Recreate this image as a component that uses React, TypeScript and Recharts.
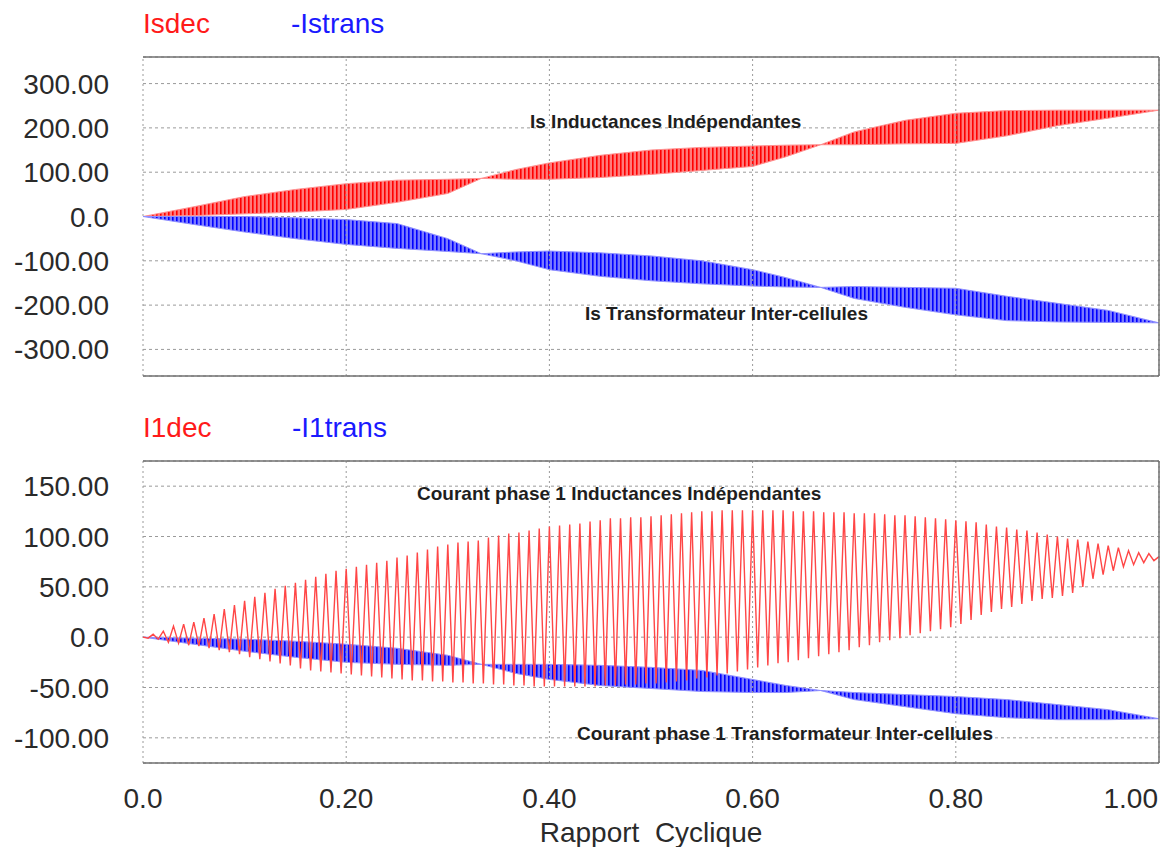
import { ComposedChart, Area, Line, XAxis, YAxis, CartesianGrid, ReferenceLine } from 'recharts';

const FONT = '"Liberation Sans", Arial, sans-serif';

// duty cycle sample positions for the band envelopes
const duty = [0, 0.05, 0.1, 0.15, 0.2, 0.25, 0.3, 0.333, 0.367, 0.4, 0.45, 0.5, 0.55, 0.6, 0.633, 0.667, 0.7, 0.75, 0.8, 0.85, 0.9, 0.95, 1.0];

// top chart: Isdec (red) and -Istrans (blue) ripple envelopes
const isdecHigh = [0, 22, 45, 61, 74, 82, 84, 86, 106, 121, 138, 150, 156, 159, 161, 162, 191, 217, 233, 239, 240, 240, 240];
const isdecLow = [0, 2, 6, 10, 16, 32, 52, 86, 84, 84, 88, 95, 104, 113, 135, 162, 162, 164, 165, 182, 205, 222, 240];
const istransHigh = [0, 0, 0, -3, -7, -16, -50, -84, -80, -78, -82, -89, -100, -120, -138, -160, -158, -160, -162, -180, -196, -212, -240];
const istransLow = [0, -18, -35, -50, -63, -72, -79, -84, -100, -120, -135, -145, -152, -157, -159, -160, -185, -205, -222, -235, -238, -239, -240];

// bottom chart: -I1trans (blue) envelope
const i1transHigh = [0, -1, -2, -4, -7, -11, -18, -27, -27, -27, -28, -30, -33, -42, -48, -53, -55, -57, -59, -62, -67, -72, -81];
const i1transLow = [0, -7, -14, -20, -25, -27, -28, -27, -36, -42, -48, -51, -54, -55, -55, -53, -62, -69, -76, -80, -82, -82, -81];

// bottom chart: I1dec (red) peaks, one per switching period (0.01 apart), and troughs half a period later
const i1decPeaks = [
  0, 3, 6, 11, 13, 15, 19, 23, 28, 32, 36, 40, 44, 48, 51, 54, 57, 60, 63, 66,
  68, 70, 72, 74, 76, 79, 81, 84, 87, 90, 92, 94, 95, 96, 99, 101, 103, 104, 106, 108,
  110, 111, 112, 113, 115, 116, 118, 118, 119, 119, 120, 121, 122, 123, 124, 125, 125, 126, 126, 126,
  126, 126, 126, 126, 125, 125, 125, 124, 124, 124, 123, 123, 123, 122, 121, 121, 120, 119, 118, 117,
  116, 115, 114, 112, 110, 109, 107, 106, 104, 102, 100, 98, 97, 95, 93, 91, 89, 86, 84, 83, 80,
];
const i1decTroughs = [
  -1, -2, -5, -6, -8, -9, -11, -13, -15, -17, -20, -22, -24, -26, -28, -31, -33, -34, -35, -36,
  -37, -38, -39, -40, -41, -42, -43, -43, -44, -44, -45, -45, -46, -46, -47, -47, -48, -48, -49, -49,
  -49, -49, -49, -49, -49, -48, -48, -47, -47, -46, -46, -45, -44, -43, -41, -40, -38, -36, -34, -32,
  -30, -28, -26, -25, -23, -21, -19, -17, -15, -13, -10, -8, -5, -3, -1, 2, 4, 6, 8, 10,
  13, 17, 22, 25, 28, 30, 33, 36, 38, 39, 41, 44, 50, 58, 62, 66, 70, 72, 74, 76,
];

const xTicks = [0, 0.2, 0.4, 0.6, 0.8, 1];
const topTicks = [-300, -200, -100, 0, 100, 200, 300];
const bottomTicks = [-100, -50, 0, 50, 100, 150];

const topData = duty.map((x, i) => ({
  x,
  isdec: [isdecLow[i], isdecHigh[i]],
  istrans: [istransLow[i], istransHigh[i]],
}));

const bottomBand = duty.map((x, i) => ({ x, i1trans: [i1transLow[i], i1transHigh[i]] }));

const bottomWave = i1decPeaks.flatMap((p, i) =>
  i < i1decTroughs.length
    ? [{ x: i / 100, i1dec: p }, { x: (i + 0.5) / 100, i1dec: i1decTroughs[i] }]
    : [{ x: i / 100, i1dec: p }]
);

const fmt = (v: number) => (v === 0 ? '0.0' : v.toFixed(2));

const YTick = ({ x, y, payload }: any) => (
  <text x={x - 34} y={y + 10} textAnchor="end" fontSize={28} fontFamily={FONT} fill="#2a2a2a">
    {fmt(payload.value)}
  </text>
);

const XTick = ({ x, y, payload }: any) => {
  const last = payload.value === 1;
  return (
    <text x={last ? x - 1 : x} y={y + 45} textAnchor={last ? 'end' : 'middle'} fontSize={28} fontFamily={FONT} fill="#2a2a2a">
      {fmt(payload.value)}
    </text>
  );
};

const gridColor = '#9a9a9a';
const frameColor = '#707070';

export default function App() {
  return (
    <div style={{ position: 'absolute', left: 0, top: 0, width: 1168, height: 847, background: '#fff', overflow: 'hidden' }}>
      <svg width={0} height={0} style={{ position: 'absolute' }}>
        <defs>
          <pattern id="redStripes" width={4} height={10} patternUnits="userSpaceOnUse">
            <rect width={4} height={10} fill="#ff7a7a" />
            <rect width={1.6} height={10} fill="#ff0000" />
          </pattern>
          <pattern id="blueStripes" width={4} height={10} patternUnits="userSpaceOnUse">
            <rect width={4} height={10} fill="#7a7aff" />
            <rect width={1.6} height={10} fill="#0000ff" />
          </pattern>
        </defs>
      </svg>

      <div style={{ position: 'absolute', left: 0, top: 0 }}>
        <ComposedChart width={1168} height={390} data={topData} margin={{ top: 57, right: 9, bottom: 14, left: 0 }}>
          <CartesianGrid stroke={gridColor} strokeDasharray="3 3" vertical={false} />
          <XAxis type="number" dataKey="x" domain={[0, 1]} ticks={xTicks} height={0} tick={false} axisLine={false} tickLine={false} />
          <YAxis type="number" domain={[-360, 360]} ticks={topTicks} width={143} tickSize={0} tickMargin={0} axisLine={false} tickLine={false} tick={YTick} />
          {xTicks.map((t) => (
            <ReferenceLine key={t} x={t} stroke={gridColor} strokeDasharray="2 3" />
          ))}
          <Area type="linear" dataKey="isdec" stroke="#ff9090" strokeWidth={1} fill="url(#redStripes)" fillOpacity={1} isAnimationActive={false} />
          <Area type="linear" dataKey="istrans" stroke="#9090ff" strokeWidth={1} fill="url(#blueStripes)" fillOpacity={1} isAnimationActive={false} />
          <ReferenceLine y={360} stroke={frameColor} strokeWidth={1.5} />
          <ReferenceLine y={-360} stroke={frameColor} strokeWidth={1.5} />
          <ReferenceLine x={1} stroke={frameColor} strokeWidth={1.5} />
        </ComposedChart>
      </div>

      <div style={{ position: 'absolute', left: 0, top: 400 }}>
        <ComposedChart width={1168} height={447} margin={{ top: 61, right: 9, bottom: 0, left: 0 }}>
          <CartesianGrid stroke={gridColor} strokeDasharray="3 3" vertical={false} />
          <XAxis type="number" dataKey="x" domain={[0, 1]} ticks={xTicks} height={84} tickSize={0} tickMargin={0} axisLine={false} tickLine={false} tick={XTick} />
          <YAxis type="number" domain={[-125, 175]} ticks={bottomTicks} width={143} tickSize={0} tickMargin={0} axisLine={false} tickLine={false} tick={YTick} />
          {xTicks.map((t) => (
            <ReferenceLine key={t} x={t} stroke={gridColor} strokeDasharray="2 3" />
          ))}
          <Area data={bottomBand} type="linear" dataKey="i1trans" stroke="#9090ff" strokeWidth={1} fill="url(#blueStripes)" fillOpacity={1} isAnimationActive={false} />
          <Line data={bottomWave} type="linear" dataKey="i1dec" stroke="#ff4646" strokeWidth={1.4} dot={false} isAnimationActive={false} />
          <ReferenceLine y={175} stroke={frameColor} strokeWidth={1.5} />
          <ReferenceLine y={-125} stroke={frameColor} strokeWidth={1.5} />
          <ReferenceLine x={1} stroke={frameColor} strokeWidth={1.5} />
        </ComposedChart>
      </div>

      <svg width={1168} height={847} style={{ position: 'absolute', left: 0, top: 0, pointerEvents: 'none' }}>
        <g fontFamily={FONT} fontSize={28}>
          <text x={143} y={33} fill="#ff1a1a">Isdec</text>
          <text x={291} y={33} fill="#1a1aff">-Istrans</text>
          <text x={143} y={437} fill="#ff1a1a">I1dec</text>
          <text x={292} y={437} fill="#1a1aff">-I1trans</text>
          <text x={651} y={842} textAnchor="middle" fill="#2a2a2a" style={{ whiteSpace: 'pre' }}>Rapport  Cyclique</text>
        </g>
        <g fontFamily={FONT} fontSize={19} fontWeight="bold" fill="#1e1e1e">
          <text x={530} y={128}>Is Inductances Indépendantes</text>
          <text x={585} y={320}>Is Transformateur Inter-cellules</text>
          <text x={417} y={500}>Courant phase 1 Inductances Indépendantes</text>
          <text x={577} y={740}>Courant phase 1 Transformateur Inter-cellules</text>
        </g>
      </svg>
    </div>
  );
}
